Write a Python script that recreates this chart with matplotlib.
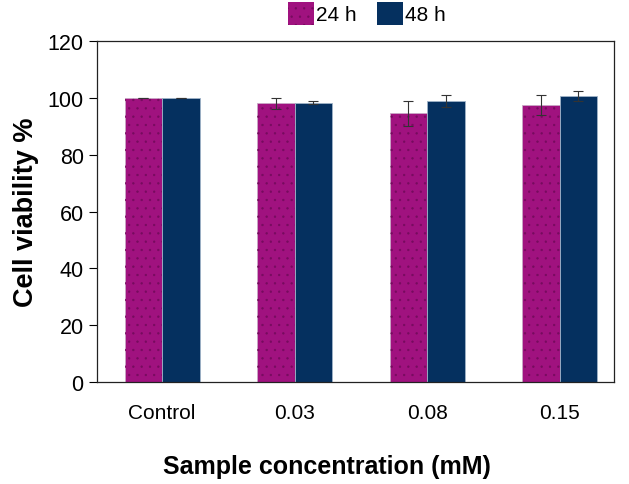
import matplotlib
matplotlib.use("Agg")
import matplotlib.pyplot as plt
import matplotlib.patches as mpatches
import numpy as np

plt.rcParams['font.family'] = ['Liberation Sans', 'DejaVu Sans']
plt.rcParams['hatch.linewidth'] = 0.45

categories = ["Control", "0.03", "0.08", "0.15"]
series_names = ["24 h", "48 h"]
viab_24h = [100.0, 98.1, 94.6, 97.6]
err_24h = [0.1, 2.0, 4.3, 3.4]
viab_48h = [100.0, 98.4, 99.0, 100.6]
err_48h = [0.1, 0.6, 2.1, 1.7]
yticks = [0, 20, 40, 60, 80, 100, 120]

c24 = "#A0127F"
c48 = "#05305F"
dotc = "#760b5e"

fig = plt.figure(figsize=(6.29, 4.85), dpi=100)
ax = fig.add_axes([0.154, 0.21, 0.822, 0.703])

x = np.arange(len(categories))
w = 0.283
ax.bar(x - w / 2, viab_24h, w, color=c24, edgecolor="#c9a9c6", linewidth=0.6, zorder=2)
ax.bar(x - w / 2, viab_24h, w, color="none", edgecolor=dotc, linewidth=0, hatch="..", zorder=3)
ax.bar(x + w / 2, viab_48h, w, color=c48, edgecolor="#9fb3c8", linewidth=0.6, zorder=2)
ax.errorbar(x - w / 2, viab_24h, yerr=err_24h, fmt="none", ecolor="#333333",
            elinewidth=0.8, capsize=3.5, capthick=0.8, zorder=4)
ax.errorbar(x + w / 2, viab_48h, yerr=err_48h, fmt="none", ecolor="#333333",
            elinewidth=0.8, capsize=3.5, capthick=0.8, zorder=4)

ax.set_xlim(-0.493, 3.41)
ax.set_ylim(0, 120)
ax.set_yticks(yticks)
ax.set_xticks(x)
ax.set_xticklabels(categories)
ax.tick_params(axis="x", length=0, pad=15, labelsize=15)
ax.tick_params(axis="y", length=6, width=0.8, pad=3.5, labelsize=15.5, direction="out")
for s in ax.spines.values():
    s.set_linewidth(0.9)
    s.set_color("#222222")

ax.set_ylabel("Cell viability %", fontsize=19.5, fontweight="bold")
ax.yaxis.set_label_coords(-0.112, 0.5)
ax.set_xlabel("Sample concentration (mM)", fontsize=18, fontweight="bold")
ax.xaxis.set_label_coords(0.445, -0.21)

h1 = mpatches.Patch(facecolor=c24, edgecolor=dotc, linewidth=0, hatch="..")
h2 = mpatches.Patch(facecolor=c48, edgecolor="none")
ax.legend([h1, h2], series_names, loc="center", bbox_to_anchor=(0.522, 1.082),
          ncol=2, frameon=False, fontsize=15, handlelength=1.25, handleheight=1.3,
          handletextpad=0.1, columnspacing=1.0, borderaxespad=0)

fig.savefig("out.png", dpi=100)
